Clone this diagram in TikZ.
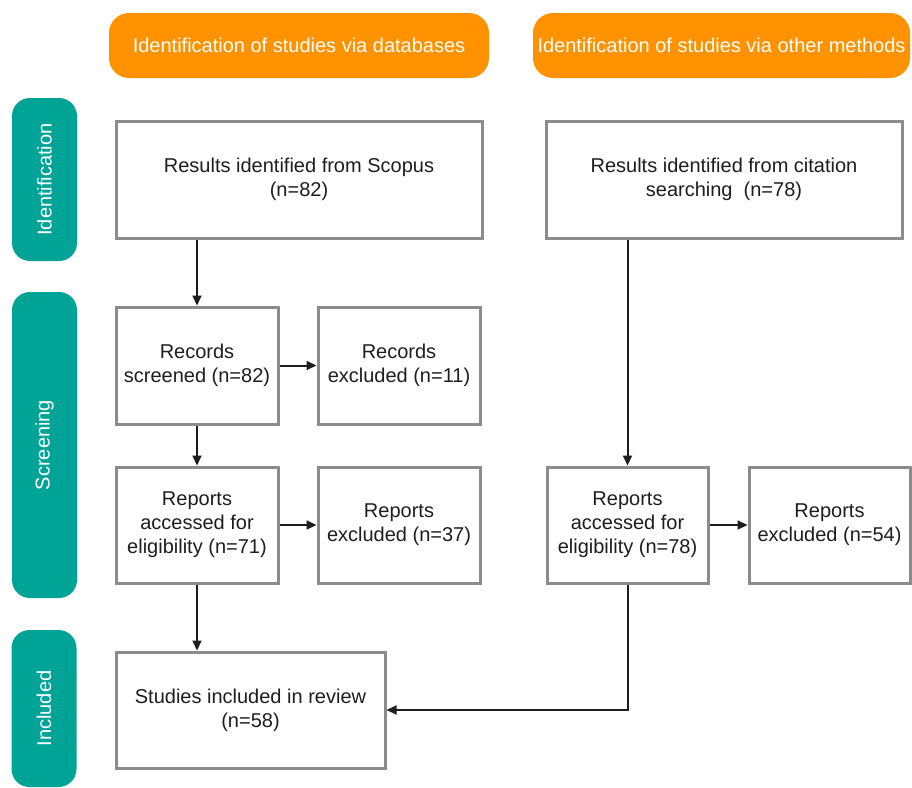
\documentclass[tikz,border=0pt]{standalone}
\usepackage{fontspec}
\setmainfont{Liberation Sans}
\usetikzlibrary{arrows.meta}
\definecolor{hdrorange}{RGB}{255,146,0}
\definecolor{barteal}{RGB}{0,164,150}
\definecolor{boxgray}{RGB}{140,140,140}
\definecolor{txtdark}{RGB}{30,30,30}
\tikzset{
  txt/.style={font=\fontsize{20}{24}\selectfont},
  header/.style={txt, fill=hdrorange, text=white, rounded corners=20pt, minimum height=65pt, inner sep=2pt},
  sidebar/.style={txt, fill=barteal, text=white, rounded corners=18pt, rotate=90, minimum height=65pt, inner sep=2pt},
  flowbox/.style={txt, draw=boxgray, line width=3pt, fill=white, text=txtdark, align=center, inner sep=2pt},
  conn/.style={draw=txtdark, line width=2pt, -{Triangle[length=10pt,width=9pt]}},
  connline/.style={draw=txtdark, line width=2pt}
}
\begin{document}
\begin{tikzpicture}[x=1pt,y=-1pt]
\fill[white] (0,0) rectangle (912,787);
\useasboundingbox (0,0) rectangle (912,787);

% headers
\node[header, minimum width=380pt] (h1) at (299,45.5) {Identification of studies via databases};
\node[header, minimum width=377pt] (h2) at (721.5,45.5) {Identification of studies via other methods};

% side bars
\node[sidebar, minimum width=163pt] (s1) at (44.5,179.5) {Identification};
\node[sidebar, minimum width=306pt] (s2) at (44.5,445) {Screening};
\node[sidebar, minimum width=157pt] (s3) at (44,708.5) {Included};

% boxes
\node[flowbox, minimum width=366pt, minimum height=117pt] (scopus) at (299,179.5) {Results identified from Scopus\\(n=82)};
\node[flowbox, minimum width=356pt, minimum height=117pt] (cit) at (724,179.5) {Results identified from citation\\searching\ \ (n=78)};
\node[flowbox, minimum width=162pt, minimum height=117pt] (recscr) at (197,365.5) {Records\\screened (n=82)};
\node[flowbox, minimum width=162pt, minimum height=117pt] (recexc) at (399,365.5) {Records\\excluded (n=11)};
\node[flowbox, minimum width=162pt, minimum height=116pt] (rep71) at (197,525) {Reports\\accessed for\\eligibility (n=71)};
\node[flowbox, minimum width=162pt, minimum height=116pt] (exc37) at (399,525) {Reports\\excluded (n=37)};
\node[flowbox, minimum width=161pt, minimum height=116pt] (rep78) at (627.5,525) {Reports\\accessed for\\eligibility (n=78)};
\node[flowbox, minimum width=161pt, minimum height=116pt] (exc54) at (829.5,525) {Reports\\excluded (n=54)};
\node[flowbox, minimum width=269pt, minimum height=116pt] (studies) at (250.5,710) {Studies included in review\\(n=58)};

% connectors
\draw[conn] (recscr.north |- scopus.south) -- (recscr.north);
\draw[conn] (recscr.east) -- (recexc.west);
\draw[conn] (recscr.south) -- (rep71.north);
\draw[conn] (rep71.east) -- (exc37.west);
\draw[conn] (rep71.south) -- (rep71.south |- studies.north);
\draw[conn] (rep78.north |- cit.south) -- (rep78.north);
\draw[conn] (rep78.east) -- (exc54.west);
\draw[conn] (rep78.south) -- (rep78.south |- studies.east) -- (studies.east);
\end{tikzpicture}
\end{document}
